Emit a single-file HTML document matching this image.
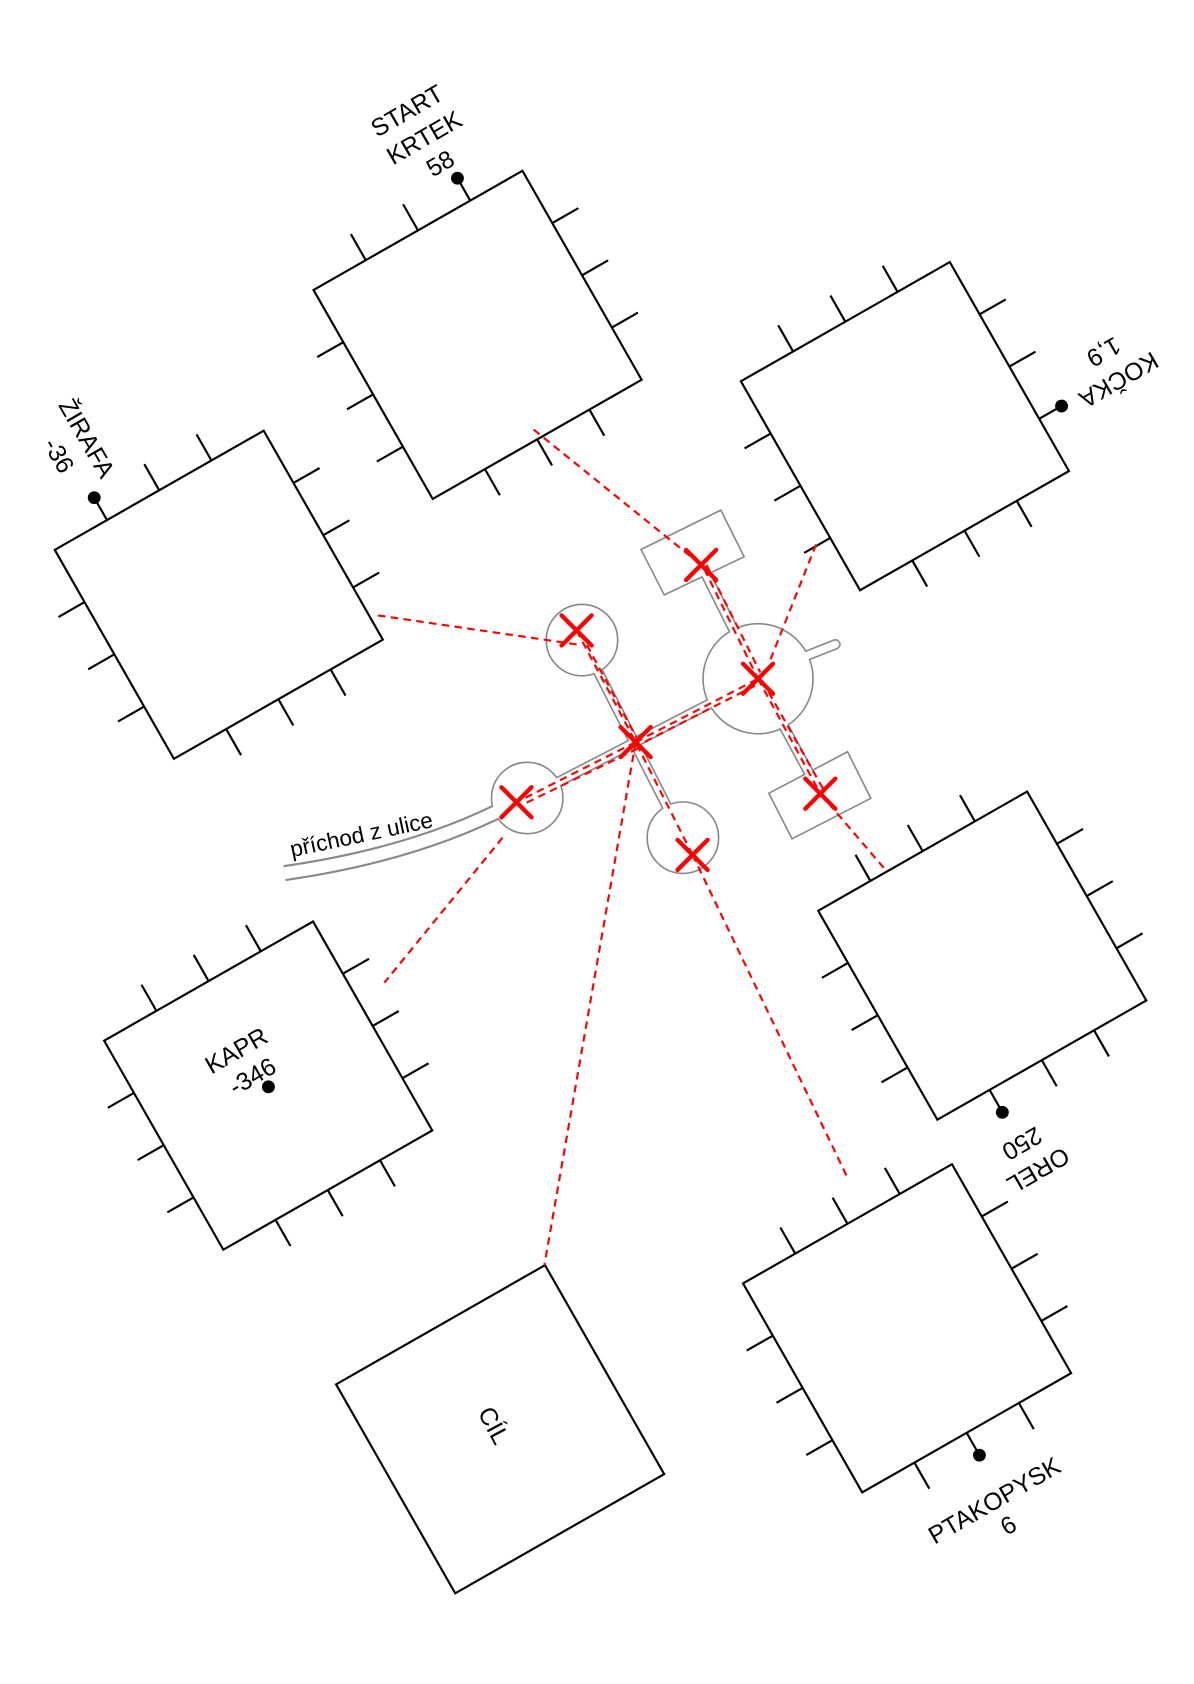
<!DOCTYPE html>
<html><head><meta charset="utf-8"><style>html,body{margin:0;padding:0;background:#fff}svg{display:block}</style></head>
<body>
<svg width="1194" height="1684" viewBox="0 0 1112 1568" preserveAspectRatio="none" xmlns="http://www.w3.org/2000/svg" font-family="Liberation Sans, sans-serif">
<defs>
<g id="sq"><rect x="0" y="0" width="224" height="224" fill="none" stroke="#000" stroke-width="2"/></g>
<g id="tT"><path d="M56 0V-28M112 0V-28M168 0V-28" stroke="#000" stroke-width="2"/></g>
<g id="tR"><path d="M224 56H252M224 112H252M224 168H252" stroke="#000" stroke-width="2"/></g>
<g id="tB"><path d="M56 224V252M112 224V252M168 224V252" stroke="#000" stroke-width="2"/></g>
<g id="tL"><path d="M0 56H-28M0 112H-28M0 168H-28" stroke="#000" stroke-width="2"/></g>
</defs>

<g transform="translate(292,270) rotate(-29.7)">
<use href="#sq"/><use href="#tR"/><use href="#tB"/><use href="#tL"/>
<path d="M56 0V-28M112 0V-28M168 0V-22" stroke="#000" stroke-width="2"/><circle cx="168" cy="-24" r="6"/>
</g>
<g transform="translate(51,512) rotate(-29.7)">
<use href="#sq"/><use href="#tR"/><use href="#tB"/><use href="#tL"/>
<path d="M56 0V-22M112 0V-28M168 0V-28" stroke="#000" stroke-width="2"/><circle cx="56" cy="-24" r="6"/>
</g>
<g transform="translate(690,355) rotate(-29.7)">
<use href="#sq"/><use href="#tT"/><use href="#tB"/><use href="#tL"/>
<path d="M224 56H252M224 112H252M224 168H246" stroke="#000" stroke-width="2"/><circle cx="248" cy="168" r="6"/>
</g>
<g transform="translate(762,848) rotate(-29.7)">
<use href="#sq"/><use href="#tT"/><use href="#tR"/><use href="#tL"/>
<path d="M56 224V246M112 224V252M168 224V252" stroke="#000" stroke-width="2"/><circle cx="56" cy="248" r="6"/>
</g>
<g transform="translate(97,969) rotate(-29.7)">
<use href="#sq"/><use href="#tT"/><use href="#tR"/><use href="#tB"/><use href="#tL"/>
</g>
<circle cx="250" cy="1012" r="6"/>
<g transform="translate(692,1195) rotate(-29.7)">
<use href="#sq"/><use href="#tT"/><use href="#tR"/><use href="#tL"/>
<path d="M56 224V252M112 224V246M168 224V252" stroke="#000" stroke-width="2"/><circle cx="112" cy="248" r="6"/>
</g>
<g transform="translate(313,1289) rotate(-29.7)"><use href="#sq"/></g>

<g font-size="23" text-anchor="middle" fill="#000">
<text transform="translate(383,110) rotate(-30)">START</text>
<text transform="translate(399,135) rotate(-30)">KRTEK</text>
<text transform="translate(414,159) rotate(-30)">58</text>
<text transform="translate(74,412) rotate(60)">ŽIRAFA</text>
<text transform="translate(48,428) rotate(60)">-36</text>
<text transform="translate(1038,347) rotate(150)">KOČKA</text>
<text transform="translate(1024,321) rotate(150)">1,9</text>
<text transform="translate(963,1083) rotate(150)">OREL</text>
<text transform="translate(948,1058) rotate(150)">250</text>
<text transform="translate(224,985) rotate(-30)">KAPR</text>
<text transform="translate(239,1009) rotate(-30)">-346</text>
<text transform="translate(930,1404) rotate(-30)">PTAKOPYSK</text>
<text transform="translate(943,1427) rotate(-30)">6</text>
<text transform="translate(453,1331) rotate(62)">CÍL</text>
<text font-size="21" transform="translate(338,784) rotate(-12)">příchod z ulice</text>
</g>

<g fill="#888" stroke="#888">
<path d="M265,813 Q390,795 478,748" fill="none" stroke-width="15"/>
<path d="M491,743 L706,632 M542,596 L636,780 M653,526 L706,632 L764,739 M740,615 L778,600" fill="none" stroke-width="10" stroke-linecap="round"/>
<circle cx="542" cy="596" r="33.5"/><circle cx="491" cy="743" r="33.5"/><circle cx="636" cy="780" r="33.5"/><circle cx="706" cy="632" r="51.5"/>
<polygon points="598,512 671,476 692,518 619,553" stroke-width="3"/>
<polygon points="717,739 789,701 810,743 738,780" stroke-width="3"/>
</g>
<g fill="#fff" stroke="#fff">
<path d="M265,813 Q390,795 478,748" fill="none" stroke-width="11"/>
<path d="M491,743 L706,632 M542,596 L636,780 M653,526 L706,632 L764,739 M740,615 L778,600" fill="none" stroke-width="7" stroke-linecap="round"/>
<circle cx="542" cy="596" r="32"/><circle cx="491" cy="743" r="32"/><circle cx="636" cy="780" r="32"/><circle cx="706" cy="632" r="50"/>
<polygon points="598,512 671,476 692,518 619,553" stroke-width="0"/>
<polygon points="717,739 789,701 810,743 738,780" stroke-width="0"/>
</g>

<g stroke="#f00" stroke-width="2" fill="none" stroke-dasharray="7,5">
<path d="M497,400 L648,522"/>
<path d="M656,530 L704,628 M658,526 L708,626"/>
<path d="M706,632 L764,739 M710,634 L768,737"/>
<path d="M764,739 L823,808"/>
<path d="M352,573 L537,600"/>
<path d="M537,587 L592,691 L645,796 M541,590 L596,693"/>
<path d="M645,796 L790,1098"/>
<path d="M592,691 L706,632 M590,696 L704,638"/>
<path d="M592,691 L481,747 M594,697 L483,751"/>
<path d="M468,780 L358,915"/>
<path d="M760,507 L716,618"/>
<path d="M592,691 L507,1178"/>
</g>

<g stroke="#f00" stroke-width="4" stroke-linecap="round">
<path d="M639,512 L667,540 M667,512 L639,540"/>
<path d="M523,573 L551,601 M551,573 L523,601"/>
<path d="M578,677 L606,705 M606,677 L578,705"/>
<path d="M692,618 L720,646 M720,618 L692,646"/>
<path d="M750,725 L778,753 M778,725 L750,753"/>
<path d="M467,733 L495,761 M495,733 L467,761"/>
<path d="M631,782 L659,810 M659,782 L631,810"/>
</g>
</svg>
</body></html>
